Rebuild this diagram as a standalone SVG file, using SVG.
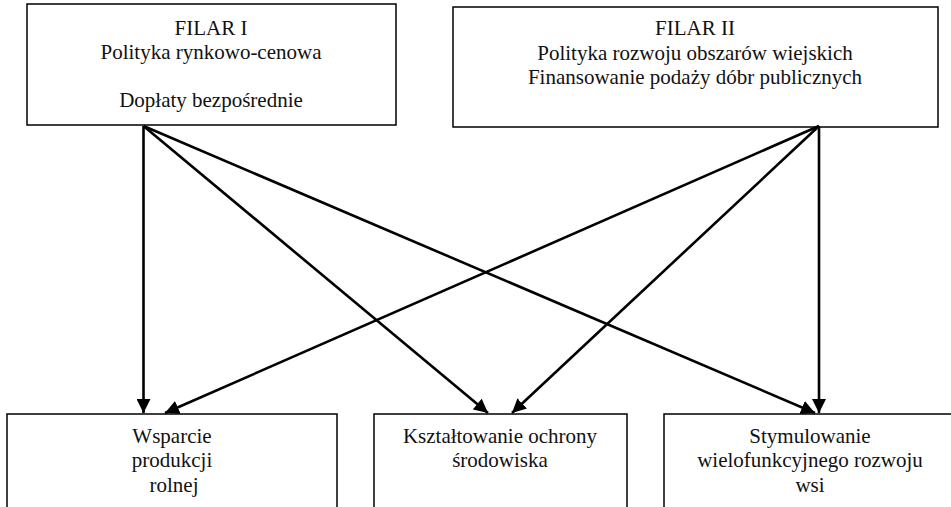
<svg xmlns="http://www.w3.org/2000/svg" width="951" height="507" viewBox="0 0 951 507">
<style>
.box{fill:#fff;stroke:#000;stroke-width:1.5}
.t{font-family:"Liberation Serif","Times New Roman",serif;font-size:21px;fill:#111;text-anchor:middle}
.c{stroke:#000;stroke-width:2.6;fill:none;marker-end:url(#ah)}
</style>
<defs>
<marker id="ah" markerUnits="userSpaceOnUse" markerWidth="14" markerHeight="14" viewBox="0 0 12 12" refX="12" refY="6" orient="auto">
<path d="M0,0 L12,6 L0,12 z" fill="#000"/>
</marker>
</defs>
<rect width="951" height="507" fill="#fff"/>
<g id="filar1">
<rect class="box" x="27" y="4" width="369" height="121"/>
<text class="t" x="211" y="35">FILAR I</text>
<text class="t" x="211" y="59">Polityka rynkowo-cenowa</text>
<text class="t" x="211" y="107">Dopłaty bezpośrednie</text>
</g>
<g id="filar2">
<rect class="box" x="453" y="7" width="485" height="120"/>
<text class="t" x="695" y="35">FILAR II</text>
<text class="t" x="695" y="60">Polityka rozwoju obszarów wiejskich</text>
<text class="t" x="695" y="84">Finansowanie podaży dóbr publicznych</text>
</g>
<g id="wsparcie">
<rect class="box" x="7" y="414" width="330" height="100"/>
<text class="t" x="172" y="443">Wsparcie</text>
<text class="t" x="172" y="467">produkcji</text>
<text class="t" x="174" y="492">rolnej</text>
</g>
<g id="ochrona">
<rect class="box" x="374" y="414" width="253" height="100"/>
<text class="t" x="500" y="443">Kształtowanie ochrony</text>
<text class="t" x="500" y="467">środowiska</text>
</g>
<g id="stymulowanie">
<rect class="box" x="664" y="414" width="300" height="100"/>
<text class="t" x="810" y="443">Stymulowanie</text>
<text class="t" x="810" y="467">wielofunkcyjnego rozwoju</text>
<text class="t" x="810" y="492">wsi</text>
</g>
<g id="connectors">
<line class="c" x1="143.5" y1="126" x2="143.5" y2="413"/>
<line class="c" x1="143.5" y1="126" x2="488" y2="413"/>
<line class="c" x1="143.5" y1="126" x2="815" y2="413"/>
<line class="c" x1="819" y1="126" x2="819" y2="413"/>
<line class="c" x1="819" y1="126" x2="165" y2="413"/>
<line class="c" x1="819" y1="126" x2="512" y2="413"/>
</g>
</svg>
